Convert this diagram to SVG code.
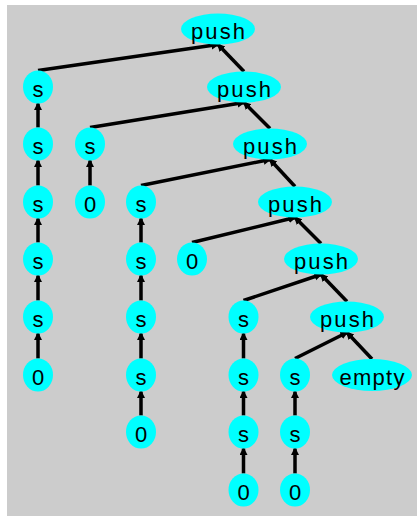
<svg xmlns="http://www.w3.org/2000/svg" width="417" height="516" viewBox="0 0 417 516">
<style>
.bg{fill:#cccccc}
.n ellipse{fill:#00ffff}
.n text{font-family:"Liberation Sans",Arial,sans-serif;font-size:22px;fill:#000;text-anchor:middle}
.e path{fill:none;stroke:#000;stroke-width:3.5;marker-end:url(#ah)}
</style>
<defs>
<marker id="ah" markerUnits="userSpaceOnUse" markerWidth="9" markerHeight="9" refX="6.5" refY="4" orient="auto">
<path d="M0,0 L8,4 L0,8 z" fill="#000"/>
</marker>
</defs>
<rect width="417" height="516" fill="#fff"/>
<rect class="bg" x="7" y="5" width="410" height="511"/>
<g id="connectors" class="e">
<path d="M38,70.5 L218,44.5"/>
<path d="M244,71.5 L218,44.5"/>
<path d="M90,127.5 L244,102.5"/>
<path d="M270,128.5 L244,102.5"/>
<path d="M141,185.5 L270,159.5"/>
<path d="M295,186.5 L270,159.5"/>
<path d="M192,242.5 L295,217.5"/>
<path d="M321,243.5 L295,217.5"/>
<path d="M243.5,300.5 L321,274.5"/>
<path d="M347,301.5 L321,274.5"/>
<path d="M295,358.5 L347,332.5"/>
<path d="M372,359 L347,332.5"/>
<path d="M38,127.5 L38,103.5"/>
<path d="M38,185.5 L38,160.5"/>
<path d="M38,242.5 L38,218.5"/>
<path d="M38,300.5 L38,275.5"/>
<path d="M38,358.5 L38,333.5"/>
<path d="M90,185.5 L90,160.5"/>
<path d="M141,242.5 L141,218.5"/>
<path d="M141,300.5 L141,275.5"/>
<path d="M141,358.5 L141,333.5"/>
<path d="M141,415.5 L141,391.5"/>
<path d="M243.5,358.5 L243.5,333.5"/>
<path d="M243.5,415.5 L243.5,391.5"/>
<path d="M243.5,473.5 L243.5,448.5"/>
<path d="M295,415.5 L295,391.5"/>
<path d="M295,473.5 L295,448.5"/>
</g>
<g id="push1" class="n"><ellipse cx="218" cy="29" rx="37" ry="15.5"/><text x="218" y="39" textLength="54" lengthAdjust="spacing">push</text></g>
<g id="push2" class="n"><ellipse cx="244" cy="87" rx="37" ry="15.5"/><text x="244" y="97" textLength="54" lengthAdjust="spacing">push</text></g>
<g id="push3" class="n"><ellipse cx="270" cy="144" rx="37" ry="15.5"/><text x="270" y="154" textLength="54" lengthAdjust="spacing">push</text></g>
<g id="push4" class="n"><ellipse cx="295" cy="202" rx="37" ry="15.5"/><text x="295" y="212" textLength="54" lengthAdjust="spacing">push</text></g>
<g id="push5" class="n"><ellipse cx="321" cy="259" rx="37" ry="15.5"/><text x="321" y="269" textLength="54" lengthAdjust="spacing">push</text></g>
<g id="push6" class="n"><ellipse cx="347" cy="317" rx="37" ry="15.5"/><text x="347" y="327" textLength="54" lengthAdjust="spacing">push</text></g>
<g id="empty" class="n"><ellipse cx="372" cy="375" rx="40" ry="16"/><text x="372" y="385" textLength="65" lengthAdjust="spacing">empty</text></g>
<g id="a1" class="n"><ellipse cx="38" cy="87" rx="15" ry="16.5"/><text x="38" y="97">s</text></g>
<g id="a2" class="n"><ellipse cx="38" cy="144" rx="15" ry="16.5"/><text x="38" y="154">s</text></g>
<g id="a3" class="n"><ellipse cx="38" cy="202" rx="15" ry="16.5"/><text x="38" y="212">s</text></g>
<g id="a4" class="n"><ellipse cx="38" cy="259" rx="15" ry="16.5"/><text x="38" y="269">s</text></g>
<g id="a5" class="n"><ellipse cx="38" cy="317" rx="15" ry="16.5"/><text x="38" y="327">s</text></g>
<g id="a6" class="n"><ellipse cx="38" cy="375" rx="15" ry="16.5"/><text x="38" y="385">0</text></g>
<g id="b1" class="n"><ellipse cx="90" cy="144" rx="15" ry="16.5"/><text x="90" y="154">s</text></g>
<g id="b2" class="n"><ellipse cx="90" cy="202" rx="15" ry="16.5"/><text x="90" y="212">0</text></g>
<g id="c1" class="n"><ellipse cx="141" cy="202" rx="15" ry="16.5"/><text x="141" y="212">s</text></g>
<g id="c2" class="n"><ellipse cx="141" cy="259" rx="15" ry="16.5"/><text x="141" y="269">s</text></g>
<g id="c3" class="n"><ellipse cx="141" cy="317" rx="15" ry="16.5"/><text x="141" y="327">s</text></g>
<g id="c4" class="n"><ellipse cx="141" cy="375" rx="15" ry="16.5"/><text x="141" y="385">s</text></g>
<g id="c5" class="n"><ellipse cx="141" cy="432" rx="15" ry="16.5"/><text x="141" y="442">0</text></g>
<g id="d1" class="n"><ellipse cx="192" cy="259" rx="15" ry="16.5"/><text x="192" y="269">0</text></g>
<g id="e1" class="n"><ellipse cx="243.5" cy="317" rx="15" ry="16.5"/><text x="243.5" y="327">s</text></g>
<g id="e2" class="n"><ellipse cx="243.5" cy="375" rx="15" ry="16.5"/><text x="243.5" y="385">s</text></g>
<g id="e3" class="n"><ellipse cx="243.5" cy="432" rx="15" ry="16.5"/><text x="243.5" y="442">s</text></g>
<g id="e4" class="n"><ellipse cx="243.5" cy="490" rx="15" ry="16.5"/><text x="243.5" y="500">0</text></g>
<g id="f1" class="n"><ellipse cx="295" cy="375" rx="15" ry="16.5"/><text x="295" y="385">s</text></g>
<g id="f2" class="n"><ellipse cx="295" cy="432" rx="15" ry="16.5"/><text x="295" y="442">s</text></g>
<g id="f3" class="n"><ellipse cx="295" cy="490" rx="15" ry="16.5"/><text x="295" y="500">0</text></g>
</svg>
